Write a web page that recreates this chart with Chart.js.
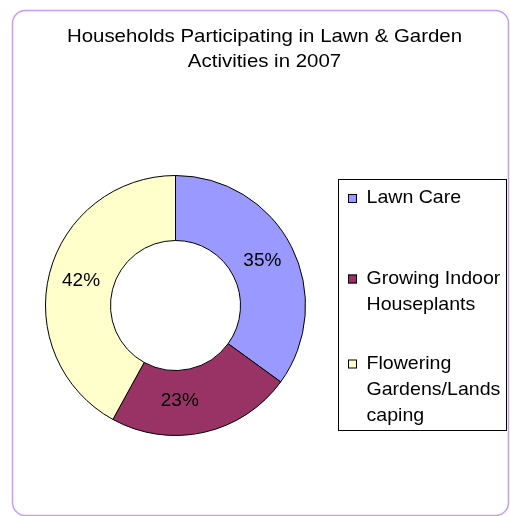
<!DOCTYPE html>
<html>
<head>
<meta charset="utf-8">
<script src="https://cdn.jsdelivr.net/npm/chart.js@4"></script>
<style>
  html, body { margin: 0; padding: 0; background: #ffffff; }
  #wrap { position: relative; width: 510px; height: 516px; }
  canvas { display: block; }
</style>
</head>
<body>
<div id="wrap"><canvas id="c" width="510" height="516"></canvas></div>
<script>
// ---- data ----
const titleLines = ['Households Participating in Lawn & Garden', 'Activities in 2007'];
const categories = ['Lawn Care', 'Growing Indoor Houseplants', 'Flowering Gardens/Landscaping'];
const legendLines = [['Lawn Care'], ['Growing Indoor', 'Houseplants'], ['Flowering', 'Gardens/Lands', 'caping']];
const shares = [35, 23, 42];
const sliceColors = ['#9999FF', '#993366', '#FFFFCC'];

const FONT = '"Liberation Sans", Arial, sans-serif';

function drawText(ctx, text, x, y, size, sx, align) {
  ctx.save();
  ctx.translate(x, y);
  ctx.scale(sx, 1);
  ctx.font = size + 'px ' + FONT;
  ctx.textAlign = align;
  ctx.textBaseline = 'middle';
  ctx.fillStyle = '#000000';
  ctx.fillText(text, 0, 0);
  ctx.restore();
}

const framePlugin = {
  id: 'frame',
  beforeDraw(chart) {
    const ctx = chart.ctx;
    ctx.save();
    ctx.fillStyle = '#ffffff';
    ctx.fillRect(0, 0, chart.width, chart.height);
    // rounded outer frame
    const x = 12.5, y = 10.5, w = 496, h = 505, r = 13;
    ctx.beginPath();
    ctx.moveTo(x + r, y);
    ctx.lineTo(x + w - r, y);
    ctx.arcTo(x + w, y, x + w, y + r, r);
    ctx.lineTo(x + w, y + h - r);
    ctx.arcTo(x + w, y + h, x + w - r, y + h, r);
    ctx.lineTo(x + r, y + h);
    ctx.arcTo(x, y + h, x, y + h - r, r);
    ctx.lineTo(x, y + r);
    ctx.arcTo(x, y, x + r, y, r);
    ctx.closePath();
    ctx.strokeStyle = '#CC99FF';
    ctx.lineWidth = 1.5;
    ctx.stroke();
    ctx.restore();
    // title
    titleLines.forEach((t, i) => drawText(ctx, t, 264.5, 37 + i * 25, 19, 1.075, 'center'));
  },
  afterDraw(chart) {
    const ctx = chart.ctx;
    // slice labels
    const meta = chart.getDatasetMeta(0);
    const total = shares.reduce((a, b) => a + b, 0);
    const labelShift = [[0, 0], [-17, 0], [0, 0]];
    meta.data.forEach((arc, i) => {
      const p = arc.tooltipPosition();
      drawText(ctx, Math.round(shares[i] / total * 100) + '%', p.x + labelShift[i][0], p.y + labelShift[i][1], 19, 1.0, 'center');
    });
    // legend box
    ctx.save();
    ctx.strokeStyle = '#000000';
    ctx.lineWidth = 1;
    ctx.strokeRect(338.5, 179.5, 168, 251);
    const itemTop = [198, 278.5, 363.5];
    legendLines.forEach((lines, i) => {
      ctx.fillStyle = sliceColors[i];
      ctx.fillRect(348, itemTop[i] - 4, 9, 9);
      ctx.strokeStyle = '#000000';
      ctx.strokeRect(348.5, itemTop[i] - 3.5, 8, 8);
      lines.forEach((ln, j) => drawText(ctx, ln, 366.5, itemTop[i] + j * 26, 19, 1.03, 'left'));
    });
    ctx.restore();
  }
};

new Chart(document.getElementById('c'), {
  type: 'doughnut',
  data: {
    labels: categories,
    datasets: [{
      data: shares,
      backgroundColor: sliceColors,
      borderColor: '#000000',
      borderWidth: 1,
      hoverOffset: 0
    }]
  },
  options: {
    responsive: false,
    animation: false,
    cutout: '50%',
    layout: { padding: { left: 45, right: 204, top: 175, bottom: 80 } },
    plugins: {
      legend: { display: false },
      title: { display: false },
      tooltip: { enabled: false }
    }
  },
  plugins: [framePlugin]
});
</script>
</body>
</html>
